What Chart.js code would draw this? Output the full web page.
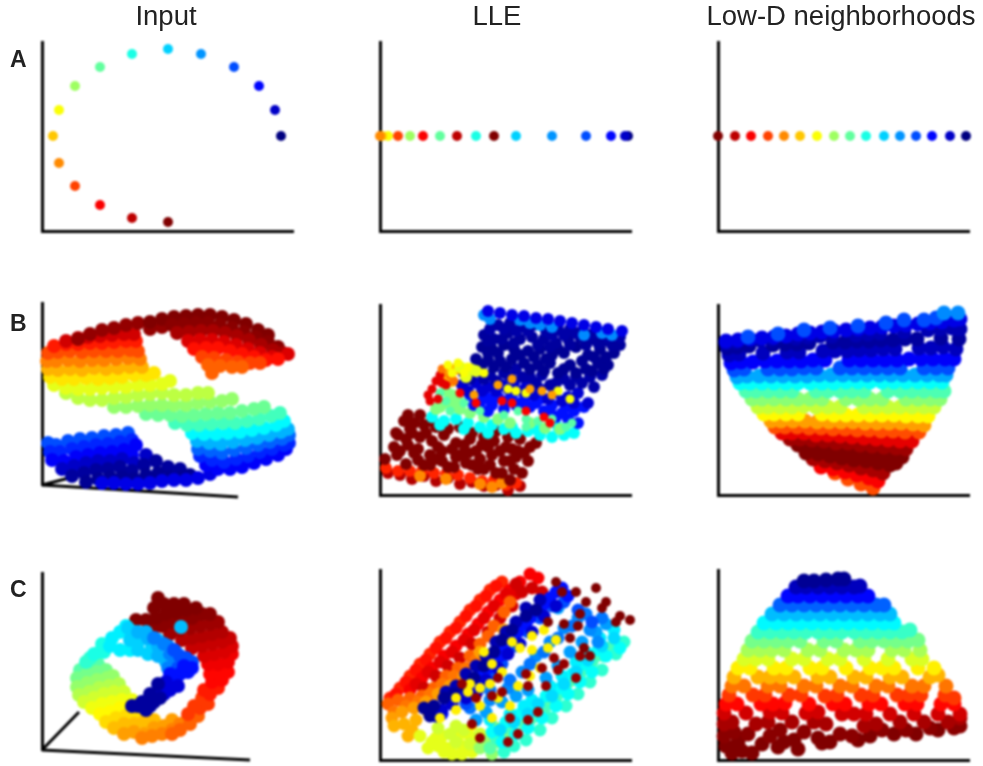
<!DOCTYPE html>
<html>
<head>
<meta charset="utf-8">
<script src="https://cdn.jsdelivr.net/npm/chart.js@4"></script>
<style>
  html, body { margin: 0; background: #fff; width: 983px; height: 766px; overflow: hidden; }
  canvas { position: absolute; filter: blur(1px); }
  .lbl { position: absolute; font-family: "Liberation Sans", Arial, sans-serif; color: #222; filter: blur(0.7px); white-space: nowrap; }
  .head { font-size: 27.5px; top: 0; text-align: center; width: 300px; }
  .tag { font-size: 23px; font-weight: bold; left: 10px; }
</style>
</head>
<body>
<script>
const columnTitles = ["Input", "LLE", "Low-D neighborhoods"];
const rowTags = ["A", "B", "C"];

const inputA = [[0,[239,95]],[7,[233,121]],[13,[217,145]],[20,[192,164]],[27,[159,177]],[33,[126,182]],[40,[90,177]],[47,[58,164]],[53,[33,145]],[62,[17,121]],[68,[11,95]],[74,[17,68]],[81,[33,45]],[88,[58,26]],[94,[90,13]],[100,[126,9]]];
const lleA = [[0,[248,95]],[7,[245,95]],[13,[231,95]],[20,[206,95]],[27,[172,95]],[33,[136,95]],[100,[114,95]],[40,[96,95]],[94,[77,95]],[47,[60,95]],[88,[43,95]],[53,[30,95]],[81,[18,95]],[62,[8,95]],[68,[2,95]],[74,[0,95]]];
const lowdA = [[100,[0,95]],[94,[17,95]],[88,[33,95]],[81,[50,95]],[74,[66,95]],[68,[82,95]],[62,[99,95]],[53,[116,95]],[47,[132,95]],[40,[148,95]],[33,[166,95]],[27,[182,95]],[20,[198,95]],[13,[214,95]],[7,[232,95]],[0,[248,95]]];

const inputB = [
  [20,[6,42,14,40,26,44,38,46,50,47,62,49,74,50,86,52]],
  [16,[8,33,18,33,30,36,42,38,54,40,66,41,78,43,90,45]],
  [12,[10,25,22,24,34,28,46,30,58,32,70,33,82,35,94,40,90,30]],
  [7,[20,16,32,19,44,22,56,24,68,24,80,26,92,22,104,30]],
  [3,[30,9,42,12,54,15,66,16,78,18,90,14,102,20,114,24,126,18,138,16]],
  [2,[44,3,56,6,68,8,80,8,92,6,104,10,116,12,128,8,140,8,148,10]],
  [10,[60,2,72,2,84,1,96,1,108,2,120,4,132,5,144,5,156,7,168,11]],
  [12,[164,20,176,16,188,16,200,18,212,22,224,26,236,30,244,36]],
  [16,[158,29,170,25,182,23,194,26,206,29,218,33,230,36,242,40,247,42]],
  [22,[156,36,168,34,180,32,192,35,204,37,216,40,228,43,240,46,247,50]],
  [30,[155,44,167,42,179,41,191,43,203,45,215,47,227,50,239,53,246,56]],
  [37,[150,52,162,51,174,51,186,52,198,53,210,55,222,57,234,60,242,64]],
  [44,[133,62,145,60,157,60,169,61,181,62,193,62,205,64,217,66,229,69,238,72]],
  [48,[104,71,116,70,128,70,140,69,152,70,164,71,176,72,188,72,200,74,212,76,222,78]],
  [52,[72,78,84,78,96,79,108,80,120,80,132,80,144,80,156,82,168,83,180,84,190,86]],
  [56,[24,92,36,87,48,85,60,85,72,87,84,88,96,90,108,91,120,92,132,90,144,90,156,92,166,92]],
  [60,[12,100,24,97,36,96,48,96,60,97,72,98,84,98,96,100,108,100,120,101,128,104]],
  [65,[8,108,20,106,32,106,44,107,56,106,68,107,80,108,92,110,104,110,112,112]],
  [70,[6,116,16,115,28,116,40,115,52,117,64,116,76,117,88,118,100,118]],
  [75,[5,124,14,124,26,125,38,124,50,125,62,125,74,126,86,127,98,126]],
  [80,[6,132,16,133,28,134,40,133,52,134,64,134,76,134,88,135,96,134]],
  [85,[12,139,24,141,36,141,48,142,60,142,72,143,84,144,94,144]],
  [92,[24,144,36,147,46,148,58,149,70,150,82,151,92,151]],
  [98,[36,146,48,151,60,155,72,157,84,160,96,162,108,156,120,158]],
  [100,[108,163,120,166,132,168,144,169,156,170,168,170,180,168,192,165,204,161,216,155,226,150]],
  [99,[130,160,142,161,154,162,166,162,178,160,190,157,202,153,214,148,226,143,236,138]],
  [96,[135,152,147,153,159,154,171,154,183,152,195,149,207,145,219,140,231,135,241,132]],
  [91,[146,144,158,145,170,145,182,143,194,140,206,136,218,132,230,128,246,131]],
  [86,[152,136,164,137,176,137,188,134,200,131,212,128,224,125,236,126]],
  [81,[160,128,172,127,184,125,196,123,208,122,218,122]],
  [78,[166,120,178,119,190,118,200,118,170,112]]
];

const lleB = [
  [95,[8,22,20,20,32,16,44,19,56,14,68,17,80,11,92,13,104,9,116,10,128,5,140,9]],
  [84,[6,27,18,24,30,24,42,24,54,22,66,21,78,20,90,17,102,14,114,15,126,10,136,12]],
  [74,[40,19,66,16,100,11,112,8,122,12]],
  [100,[5,36,17,40,26,31,38,35,50,30,62,34,74,28,86,32,98,26,110,30,122,22,134,26,130,15]],
  [100,[14,48,28,50,38,46,50,40,62,44,76,38,88,42,100,36,112,40,124,34,136,38,148,34]],
  [100,[18,60,26,56,40,58,52,54,64,60,76,52,90,56,102,50,114,54,126,48,138,44,150,48,156,52]],
  [100,[24,74,30,66,28,80,44,70,56,68,68,66,80,68,92,62,104,58,116,64,128,58,140,56]],
  [100,[16,62,34,72,52,74,40,80,32,62,46,62,58,48,72,46,84,50,96,44,108,48,120,44,132,46,144,42,20,44,34,42,44,30,56,36,68,28,80,40,92,30,104,26,116,22,130,34,142,22]],
  [38,[52,78,64,74,76,76,88,72,100,68,112,70,124,66,136,62,148,64,160,60,172,58,184,60,194,62,60,70,84,66,108,62,132,68,156,66,178,68]],
  [50,[56,86,68,92,80,86,90,82,104,78,118,76,130,72,150,72,165,67,180,66,60,88,72,100,78,96,66,104,76,88]],
  [14,[188,76,198,72,176,78,164,84,150,88,136,90,124,86,112,90,100,92,90,100,104,100,118,98,132,100,146,98,160,96,172,90,186,88,204,88,94,90,108,84,126,94,140,92,156,92,170,84,182,82,194,84,110,96]],
  [8,[82,110,96,112,108,108,122,110,134,112,146,108,160,106,174,102,188,98,198,102,208,92,88,104,102,104,116,104,128,106,142,104,154,100,168,96,182,94,194,92]],
  [4,[84,122,98,124,110,120,124,122,136,126,150,118,162,120,176,112,190,110,202,112,214,108,222,120,90,116,104,116,116,114,130,118,142,118,156,112,170,110,184,116,196,118,210,118]],
  [2,[96,136,108,135,120,134,132,136,144,132,158,130,170,132,184,126,196,122,206,126,218,132,228,130,102,130,114,128,126,128,150,126,164,124,178,122,190,130,212,124,224,126]],
  [2,[102,148,112,146,124,150,134,146,148,144,160,146,172,140,184,142,196,148,208,140,220,146,234,142,108,142,118,142,140,140,154,138,166,136,178,146,202,134,214,138,226,138]],
  [3,[104,160,114,156,128,162,140,156,152,158,164,156,176,152,188,156,200,158,212,156,224,154,240,150,108,154,122,156,134,152,158,150,170,148,190,150,206,150,218,152,232,150]],
  [4,[118,170,130,172,142,168,154,170,166,164,178,166,190,166,202,164,214,162,240,158,110,166,124,166,136,164,148,164,172,160,184,160,196,162,208,160,228,158]],
  [26,[104,180,110,176,140,175,150,172,160,170,172,168,204,160,222,162,232,160]],
  [10,[108,184,120,182,132,180,144,179,156,177,168,176,180,174,192,172,204,170,216,168,228,166,242,164]],
  [70,[68,124,76,126,64,118,72,114]],
  [60,[80,128,90,126,86,118,96,124]],
  [46,[60,102,66,94,70,84,84,92,100,84,124,80,138,84,146,76,158,74,172,76,186,68,192,72,146,68]],
  [90,[48,100,52,106,56,114,60,120,66,110,58,96,62,112,50,94]],
  [76,[62,126,70,120,74,114]],
  [62,[68,130,78,132,88,128,72,122,84,122,104,122,128,106,136,104,146,102,178,104,190,96]],
  [72,[94,100,118,110,150,106,162,104,172,100,132,116]],
  [88,[80,102,96,92,122,94,132,92,146,84,164,78,170,72]]
];

const lowdB = [
  [80,[117,22,130,16,143,11,155,7]],
  [88,[103,28,115,26,127,23,139,20,151,17,160,14]],
  [96,[95,36,107,34,119,32,131,30,143,27,155,25,165,22]],
  [100,[88,42,100,41,112,39,124,37,136,35,148,34,160,32,172,30,178,32]],
  [100,[80,50,92,49,104,47,116,46,128,45,140,43,152,42,164,40,176,39,184,38]],
  [97,[72,56,82,56,94,55,106,54,118,52,130,52,142,50,154,49,166,48,178,47,188,46]],
  [90,[64,62,74,62,86,62,98,60,110,60,122,59,134,58,146,57,158,56,170,55,182,54,194,54]],
  [80,[57,68,67,68,79,68,91,67,103,67,115,66,127,66,139,65,151,65,163,64,175,64,187,63,201,63]],
  [72,[53,74,63,74,75,74,87,74,99,73,111,73,123,73,135,73,147,72,159,72,171,72,183,72,195,71,206,70]],
  [63,[46,81,56,81,68,81,80,81,104,81,116,80,128,80,140,80,152,80,164,80,176,80,188,79,200,79,210,79]],
  [57,[40,88,50,88,62,88,74,88,86,89,98,88,110,88,122,88,146,88,158,88,170,88,182,88,194,88,206,88,216,88]],
  [51,[34,96,44,96,56,96,68,96,80,96,92,96,104,96,128,96,140,96,152,96,164,96,188,96,200,96,212,96,222,96]],
  [45,[28,104,38,104,50,104,62,104,74,104,98,104,110,104,122,104,134,104,146,104,170,104,182,104,194,104,206,104,218,104,226,104]],
  [38,[22,112,32,112,44,112,56,112,68,112,80,112,92,112,104,112,116,112,128,113,140,113,152,113,164,113,176,113,188,113,200,113,212,113,224,113]],
  [29,[19,118,29,119,41,119,53,119,65,119,77,119,89,119,101,120,113,120,125,120,137,120,149,120,161,120,173,120,185,120,197,120,209,120,221,120,228,120]],
  [20,[16,125,26,126,50,126,62,126,74,126,86,127,98,127,122,127,134,127,146,127,158,127,170,127,182,127,206,127,218,127,230,127]],
  [12,[13,132,23,133,35,133,47,134,59,134,71,134,83,134,95,135,107,135,131,135,143,135,155,135,167,135,179,135,191,136,203,136,215,136,227,136,236,136]],
  [6,[11,140,21,141,45,142,69,143,81,143,105,144,117,144,129,144,141,145,153,145,165,146,177,146,201,147,213,147,225,148,238,146]],
  [3,[9,147,19,148,31,149,55,150,67,151,79,151,91,152,115,153,127,153,139,154,151,154,163,155,175,155,187,156,199,156,223,157,241,156]],
  [5,[8,152,18,153,42,155,54,156,78,157,90,158,102,159,114,159,138,160,150,161,162,162,186,163,210,165,222,166,234,167,242,166]],
  [10,[8,154,20,155,32,156,44,157,56,158,68,159,80,161,92,162,104,163,116,164,128,165,140,166,152,167,164,168,176,169,188,170,200,171,212,172,224,173,236,175,242,176]],
  [20,[30,158,60,161,86,165,112,167,140,169,168,172,186,175,206,175,218,177]],
  [26,[226,182,240,182]]
];

const inputC = [
  [46,[38,80,46,84,56,86]],
  [49,[35,72,45,76,55,78,64,80]],
  [52,[35,63,45,67,55,70,65,72,71,74]],
  [55,[37,55,47,58,57,62,67,64,77,66]],
  [58,[42,48,52,52,62,56,72,58,82,58]],
  [61,[50,42,60,46,70,48,80,50,90,50]],
  [63,[58,36,68,38,78,42,88,44]],
  [66,[64,28,74,32,84,34,94,34]],
  [69,[72,22,82,26,92,26,102,28,112,30]],
  [72,[82,16,92,18,102,16,112,22,122,24,130,30]],
  [75,[100,12,110,14,120,16,130,20,138,26,146,32]],
  [78,[130,16,138,20,148,26,156,34]],
  [82,[146,36,158,42,166,46,152,44,160,52]],
  [85,[168,56,176,62,162,60]],
  [87,[170,68,180,70,186,78,168,76,176,78]],
  [89,[166,86,176,86,186,88,190,96]],
  [91,[162,94,172,96,182,98,190,104]],
  [93,[150,102,160,104,170,106,180,108,188,112]],
  [95,[140,110,150,112,160,114,170,116,180,118]],
  [97,[128,116,138,120,148,122,158,124,168,126,176,128]],
  [99,[110,120,120,124,130,128,140,130,150,132,160,136,168,136]],
  [100,[94,130,104,130,114,132,124,136,134,138,144,140,154,142,112,142,122,146,132,146,142,146,116,152]],
  [42,[48,92,58,98,44,88]],
  [40,[52,96,62,98,60,106]],
  [36,[68,104,70,112,78,118,78,100,88,100,84,124]],
  [33,[86,122,88,110,98,110,96,100,106,96,110,104,92,118]],
  [30,[96,118,106,112,116,104,116,94,124,88,104,118,116,110]],
  [25,[112,112,122,106,128,96,134,88,126,82,126,104,134,98]],
  [20,[132,100,138,94,146,86,136,82,144,92,150,88]],
  [14,[128,76,138,76,146,78,134,68,142,84,150,82,130,70]],
  [9,[124,68,118,60,128,60,136,64,122,56]],
  [3,[116,66,108,56,118,52,100,48,108,44,96,44,90,44,112,48,104,40]],
  [31,[139,123]]
];

const lleC = [
  [84,[10,62,20,72,30,84,40,96,50,106,60,118,70,128,80,138,90,150,100,160,110,170,122,178]],
  [86,[16,66,26,78,36,90,46,100,56,112,66,122,76,132,86,144,96,154,106,164,116,174]],
  [88,[30,70,42,82,52,92,64,104,76,114,88,126,98,136,108,148,120,160,130,170,140,178,150,186,158,182]],
  [90,[36,76,48,88,60,98,72,108,84,120,94,130,104,142,114,154,126,166,136,166]],
  [92,[44,72,56,84,68,94,80,102,92,116,108,128,120,142,132,154,142,168,152,172,162,168,136,176]],
  [78,[8,56,18,60,30,62,42,64,54,72,66,84,78,92,90,104,100,116,108,124,114,134,124,148,130,158]],
  [76,[14,48,26,54,38,58,50,66,62,76,74,84,86,92,96,100]],
  [72,[12,42,22,48,34,52,46,58,58,66,70,74,84,84,100,108,116,118,124,130]],
  [70,[14,34,24,36,36,40,48,48,32,30,28,24]],
  [60,[40,24,56,22,62,14,48,12,70,12,82,6,52,18,62,24,72,6,64,8,58,14,82,14,92,8,96,20,88,26,78,24]],
  [58,[70,26,58,32,76,34,84,30,90,16,100,26,110,22,76,18]],
  [52,[100,12,112,6,104,18,118,18,128,26,116,32]],
  [46,[110,12,120,20,132,28,144,36,156,44,168,56,180,68,192,80,204,92,216,104,228,112]],
  [44,[116,22,128,34,150,40,164,50,176,62,186,74,200,86,212,98,224,104,236,112]],
  [42,[124,8,134,14,146,20,160,30,172,42,186,54,198,66,210,78,222,90,236,106,244,118]],
  [38,[122,18,136,26,148,32,162,42,176,54,188,66,200,78,212,88,226,104,240,112,112,28,126,38,140,46,154,50,166,64,180,72,192,86,204,96,218,110]],
  [36,[130,46,144,54,152,60,170,74,182,84,196,98,206,108,220,122,234,130,110,40]],
  [34,[120,30,134,38,148,46,158,56,172,64,184,76,196,88,208,100,222,114,234,122]],
  [28,[96,40,106,48,122,58,136,64,148,70,166,82,178,94,190,108,202,118,216,128,226,136,200,148,178,152]],
  [26,[110,60,128,72,142,88,156,104,170,118,184,132,198,142,210,130,218,118]],
  [24,[90,52,110,70,130,80,150,96,164,108,178,122,192,134,206,146,222,142]],
  [20,[86,56,98,70,110,84,122,96,136,114,148,128,160,142,172,154,184,158,198,150,212,138]],
  [14,[62,46,72,56,84,66,96,78,108,92,120,104,134,122,146,136,158,150,170,162,182,172,188,164,74,62,88,74,100,86,112,100,124,112,138,128,150,142,164,156,176,168]],
  [8,[56,44,62,50,72,56,86,62,96,66,106,80,118,92,128,106,140,116,152,128,164,144,176,154]],
  [5,[66,68,76,74,86,86,96,94,106,104,116,118,126,128,136,138,146,152,160,160]],
  [2,[44,52,50,44,54,54,64,62,74,66,84,74,94,82,104,94,114,108,122,120,132,130,146,144,156,150]],
  [64,[92,34,76,50,112,42,100,54,118,62,130,54,110,76,122,88,138,74,150,84,160,92,168,112,100,72,88,68,152,110,140,112,60,42,76,62,90,76,104,108,112,96,132,118,152,124,164,130,176,120]],
  [98,[128,18,100,22,92,36,138,26,148,40,130,42,158,48,112,64,96,62,82,76,122,68,148,74,166,74,178,90,196,82,184,96,162,92,174,102,146,86,118,82,200,104]],
  [100,[176,178,182,168,196,168,206,158,216,172,226,158,240,144,250,140,236,138,222,152,200,146,184,136,198,134,190,122,204,112,210,104,168,138]]
];

const lowdC = [
  [100,[14,7,24,9,34,7,60,13,80,11,104,17]],
  [100,[8,14,20,18,44,16,66,18,76,20,100,22,112,18,140,20,152,24,176,26,198,26,220,30]],
  [99,[6,24,16,28,30,26,52,24,62,30,86,28,122,26,134,24,164,30,188,30,212,32,236,32,242,34]],
  [96,[6,36,14,38,38,36,50,38,74,38,96,38,108,36,146,34,158,36,182,38,206,38,230,38,242,42]],
  [92,[6,47,28,47,52,48,64,47,88,47,100,48,124,46,136,46,148,46,172,46,196,46,220,46,242,46]],
  [87,[8,56,19,56,43,56,55,56,67,57,91,56,115,56,127,56,151,56,163,56,187,56,199,56,223,56,236,56]],
  [82,[11,65,35,65,47,65,71,65,83,65,107,64,119,65,143,65,155,65,179,65,191,65,203,65,227,65,236,62]],
  [76,[14,74,26,74,50,74,62,74,86,74,98,74,122,74,134,74,158,74,170,74,194,74,206,74,228,74]],
  [70,[16,83,40,83,52,83,64,83,76,83,100,83,112,83,136,83,148,83,172,83,184,83,212,83,220,85]],
  [64,[20,92,32,92,56,92,68,92,92,92,104,92,128,92,152,92,164,92,176,92,200,92,216,92]],
  [59,[26,101,38,101,50,101,74,101,86,101,110,101,122,101,146,101,170,101,194,101,204,101]],
  [54,[30,110,42,110,54,110,66,110,90,110,102,110,126,110,138,110,150,110,174,110,186,110,202,110]],
  [49,[34,119,46,119,58,119,70,119,82,119,106,119,118,119,142,119,154,119,166,119,178,119,190,119,200,120]],
  [43,[40,128,52,128,64,128,76,128,88,128,100,128,112,128,124,128,136,128,148,128,160,128,172,128,184,128,192,130]],
  [37,[46,137,58,137,70,137,82,137,94,137,106,137,118,137,130,137,142,137,154,137,166,137,176,137]],
  [31,[54,146,66,146,78,146,90,146,102,146,114,146,126,146,138,146,150,146,162,146,172,146]],
  [22,[62,155,74,155,86,155,98,155,110,155,122,155,134,155,146,155,158,155,166,155]],
  [13,[70,164,80,164,92,164,104,164,116,164,128,164,140,164,150,164]],
  [6,[78,173,88,173,100,173,112,173,124,173,136,173,142,174]],
  [2,[86,179,96,179,108,180,120,181,126,181]]
];

// [x0,y0, x1,y1] of the slanted axes in the two 3-D input panels
const inputBFloor = [0,0, 196,-12];
const inputBDepth = [0,0, 27,7];
const inputCFloor = [0,0, 208,-10];
const inputCDepth = [0,0, 37,38];

const pad = 22;
const axisColor = "#000";

// jet colormap, 0 = navy, 100 = dark red
function jet(t) {
  const v = t / 100;
  const c = k => Math.round(255 * Math.max(0, Math.min(1, 1.5 - Math.abs(4 * v - k))));
  return `rgb(${c(3)},${c(2)},${c(1)})`;
}

const pairs = flat => {
  const out = [];
  for (let i = 0; i < flat.length; i += 2) out.push({ x: flat[i], y: flat[i + 1] });
  return out;
};

function panel(left, top, w, h, bands, radius, extraAxes) {
  const canvas = document.createElement("canvas");
  canvas.width = w + pad * 2;
  canvas.height = h + pad * 2;
  canvas.style.left = (left - pad) + "px";
  canvas.style.top = (top - pad) + "px";
  document.body.appendChild(canvas);

  const datasets = [];
  (extraAxes || []).forEach(a => {
    datasets.push({
      data: pairs(a),
      showLine: true,
      borderColor: axisColor,
      borderWidth: 3,
      pointRadius: 0,
      clip: false
    });
  });
  bands.forEach(([t, pts], i) => {
    datasets.push({
      data: pairs(pts),
      showLine: false,
      pointRadius: typeof radius === "function" ? radius(t, i) : radius,
      pointBackgroundColor: jet(t),
      pointBorderWidth: 0,
      clip: false
    });
  });
  // chart.js paints the first dataset last, so turn the list round
  datasets.reverse();

  const hidden = { display: false, drawTicks: false };
  new Chart(canvas, {
    type: "scatter",
    data: { datasets },
    options: {
      responsive: false,
      animation: false,
      layout: { padding: pad },
      plugins: { legend: { display: false }, tooltip: { enabled: false } },
      scales: {
        x: {
          type: "linear", min: 0, max: w,
          display: !extraAxes,
          grid: hidden, ticks: { display: false },
          border: { color: axisColor, width: 3 }
        },
        y: {
          type: "linear", min: 0, max: h,
          grid: hidden, ticks: { display: false },
          border: { color: axisColor, width: 3 }
        }
      }
    }
  });
}

const colLeft = [42, 380, 718];

panel(colLeft[0], 42, 251, 189, inputA, 5);
panel(colLeft[1], 42, 251, 189, lleA, 5);
panel(colLeft[2], 42, 251, 189, lowdA, 5);

// the thin yellow and red flecks in the LLE panels are plotted smaller than the sheet under them
panel(colLeft[0], 303, 251, 182, inputB, 7, [inputBFloor, inputBDepth]);
panel(colLeft[1], 305, 251, 190, lleB, (t, i) => i > 20 ? 4.5 : 6);
panel(colLeft[2], 305, 251, 190, lowdB, 7.5);

panel(colLeft[0], 573, 251, 177, inputC, 7, [inputCFloor, inputCDepth]);
panel(colLeft[1], 570, 251, 190, lleC, (t, i) => i > 25 ? 5 : 6.5);
panel(colLeft[2], 570, 251, 190, lowdC, 7.5);

const addLabel = (cls, text, css) => {
  const d = document.createElement("div");
  d.className = "lbl " + cls;
  d.textContent = text;
  Object.assign(d.style, css);
  document.body.appendChild(d);
};
addLabel("head", columnTitles[0], { left: "16px" });
addLabel("head", columnTitles[1], { left: "347px" });
addLabel("head", columnTitles[2], { left: "691px" });
addLabel("tag", rowTags[0], { top: "46px" });
addLabel("tag", rowTags[1], { top: "310px" });
addLabel("tag", rowTags[2], { top: "576px" });
</script>
</body>
</html>
